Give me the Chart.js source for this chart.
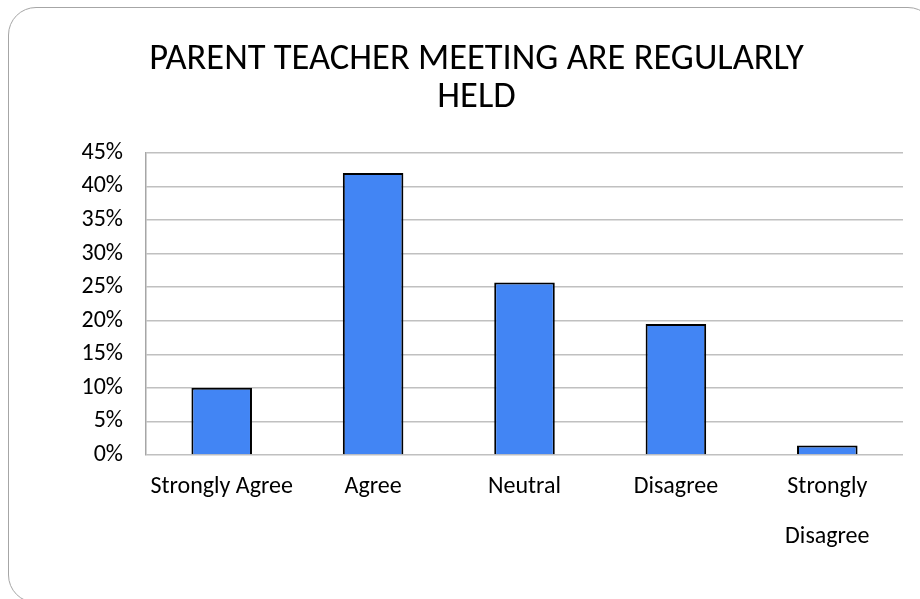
<!DOCTYPE html>
<html>
<head>
<meta charset="utf-8">
<script src="https://cdn.jsdelivr.net/npm/chart.js@4/dist/chart.umd.min.js"></script>
<style>
  html, body { margin: 0; padding: 0; background: #ffffff; }
  #wrap { position: relative; width: 920px; height: 599px; overflow: hidden; }
  #frame { position: absolute; left: 8px; top: 7px; width: 928px; height: 596px;
           border: 1.5px solid #a6a6a6; border-radius: 28px; box-sizing: border-box; }
  #c { position: absolute; left: 0; top: 0; }
</style>
</head>
<body>
<div id="wrap">
  <div id="frame"></div>
  <canvas id="c" width="920" height="599"></canvas>
</div>
<script>
const titleLines = ["PARENT TEACHER MEETING ARE REGULARLY", "HELD"];
const categories = ["Strongly Agree", "Agree", "Neutral", "Disagree", ["Strongly", "Disagree"]];
const values = [10, 42, 25.7, 19.5, 1.4];
const yMin = 0, yMax = 45, yStep = 5;

const FONT = 'Carlito, "Liberation Sans Narrow", "Open Sans", sans-serif';

new Chart(document.getElementById('c'), {
  type: 'bar',
  data: {
    labels: categories,
    datasets: [{
      data: values,
      backgroundColor: '#4285f4',
      borderColor: '#000000',
      borderWidth: 2,
      barPercentage: 0.4,
      categoryPercentage: 1.0
    }]
  },
  options: {
    responsive: false,
    animation: false,
    layout: { padding: { top: 22, left: 50, right: 17, bottom: 0 } },
    plugins: {
      legend: { display: false },
      tooltip: { enabled: false },
      title: {
        display: true,
        text: titleLines,
        color: '#000000',
        font: { family: FONT, size: 36.5, weight: 'normal', lineHeight: 1.04 },
        padding: { top: 19, bottom: 36 }
      }
    },
    scales: {
      x: {
        grid: { display: false, drawTicks: false },
        border: { display: false },
        ticks: {
          color: '#000000',
          font: { family: FONT, size: 24, lineHeight: 2.08 },
          padding: 7,
          maxRotation: 0,
          autoSkip: false
        },
        afterFit: (s) => { s.height = 144; }
      },
      y: {
        min: yMin, max: yMax,
        grid: { color: '#c0c0c0', lineWidth: 1.5, drawTicks: false },
        border: { display: true, color: '#a6a6a6', width: 1.5 },
        ticks: {
          stepSize: yStep,
          color: '#000000',
          padding: 23,
          font: { family: FONT, size: 24 },
          callback: (v) => v + '%'
        },
        afterFit: (s) => { s.width = 96; }
      }
    }
  }
});
</script>
</body>
</html>
